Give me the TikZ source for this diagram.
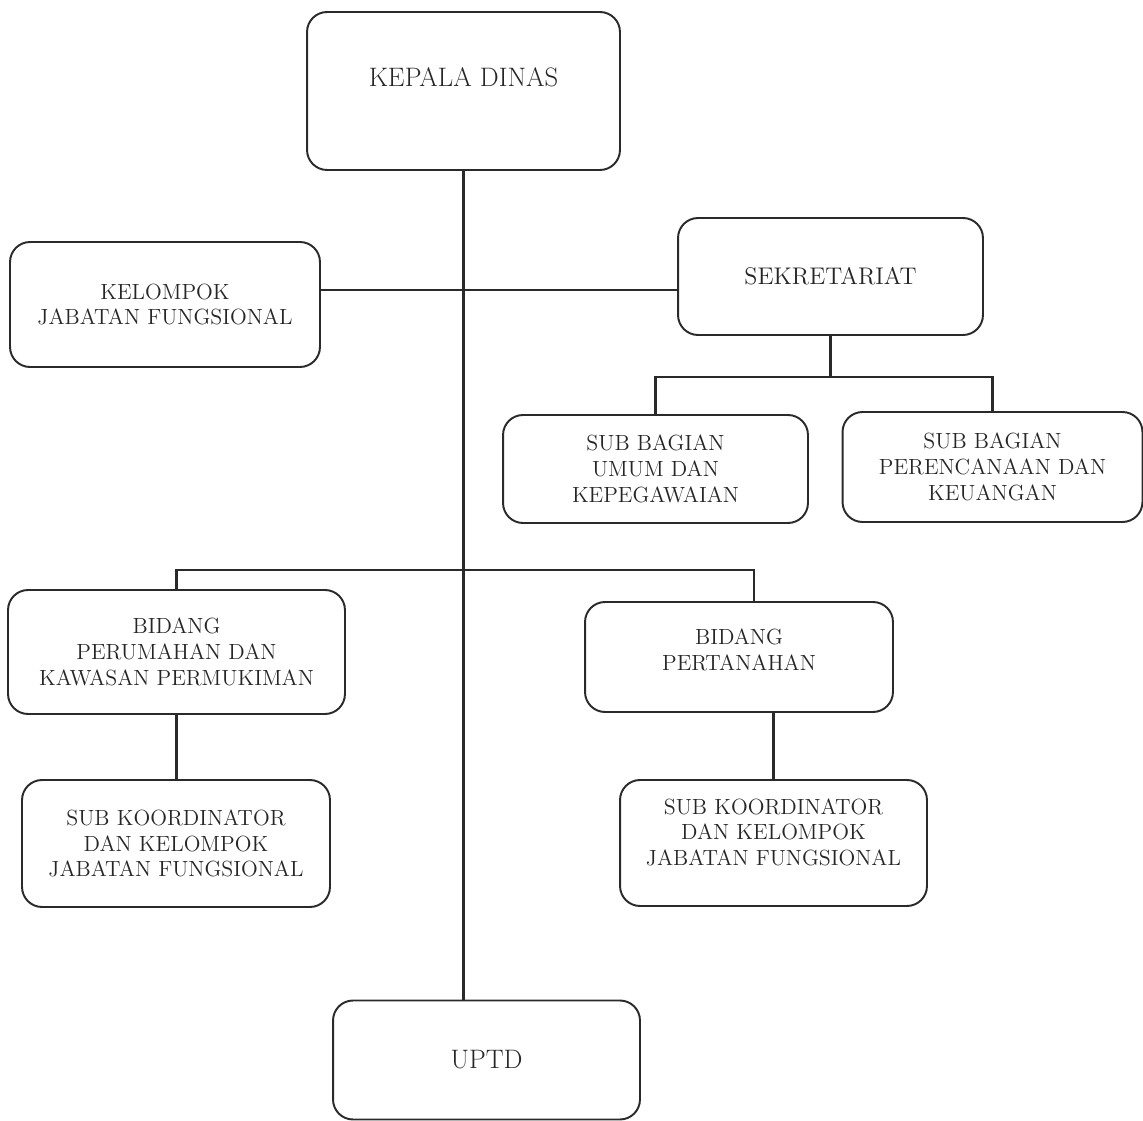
\documentclass[tikz,border=0pt]{standalone}
\usepackage{tikz}
\usetikzlibrary{calc}
\definecolor{garis}{HTML}{2A2A2A}
\definecolor{teks}{HTML}{262626}
\tikzset{
  kotak/.style={draw=garis, line width=1.1pt, rounded corners=0.4cm, align=center,
    text=teks, inner sep=0pt, font=\fontsize{12.5}{14.7}\selectfont},
  judul/.style={font=\fontsize{15.2}{17}\selectfont},
  hubung/.style={draw=garis, line width=1.3pt},
}

\begin{document}
\begin{tikzpicture}[x=0.02cm, y=-0.02cm]
\useasboundingbox (0,0) rectangle (1143,1121);
% Kepala Dinas
\node[kotak, judul, minimum width=6.26cm, minimum height=3.16cm, text depth=0.56cm] (kadis) at (463.5,91) {KEPALA DINAS};
% Kelompok Jabatan Fungsional
\node[kotak, minimum width=6.2cm, minimum height=2.5cm] (kjf) at (165,304.5) {KELOMPOK\\JABATAN FUNGSIONAL};
% Sekretariat
\node[kotak, font=\fontsize{13.7}{16}\selectfont, minimum width=6.1cm, minimum height=2.34cm] (sekre) at (830.5,276.5) {SEKRETARIAT};
% Sub Bagian
\node[kotak, minimum width=6.1cm, minimum height=2.16cm] (subum) at (655.5,469) {SUB BAGIAN\\UMUM DAN\\KEPEGAWAIAN};
\node[kotak, minimum width=6.0cm, minimum height=2.2cm] (subrk) at (992.5,467) {SUB BAGIAN\\PERENCANAAN DAN\\KEUANGAN};
% Bidang
\node[kotak, minimum width=6.74cm, minimum height=2.48cm] (bpkp) at (176.5,652) {BIDANG\\PERUMAHAN DAN\\KAWASAN PERMUKIMAN};
\node[kotak, minimum width=6.16cm, minimum height=2.2cm, text depth=0.28cm] (bpt) at (739,657) {BIDANG\\PERTANAHAN};
% Sub Koordinator
\node[kotak, minimum width=6.16cm, minimum height=2.54cm] (skl) at (176,843.5) {SUB KOORDINATOR\\DAN KELOMPOK\\JABATAN FUNGSIONAL};
\node[kotak, minimum width=6.14cm, minimum height=2.52cm, text depth=0.44cm] (skr) at (773.5,843) {SUB KOORDINATOR\\DAN KELOMPOK\\JABATAN FUNGSIONAL};
% UPTD
\node[kotak, judul, minimum width=6.14cm, minimum height=2.38cm] (uptd) at (486.5,1060) {UPTD};

% garis komando
\draw[hubung] (kadis.south) -- (kadis.south |- uptd.north);
\coordinate (simpul1) at (kadis.south |- 0,290);
\draw[hubung] (kjf.east |- simpul1) -- (sekre.west |- simpul1);
% ke sub bagian
\coordinate (simpul2) at (sekre.south |- 0,377);
\draw[hubung] (sekre.south) -- (simpul2);
\draw[hubung] (subum.north) |- (simpul2) -| (subrk.north);
% ke bidang
\coordinate (simpul3) at (kadis.south |- 0,570);
\draw[hubung] (bpkp.north) |- (simpul3) -| ([xshift=0.3cm]bpt.north);
% ke sub koordinator
\draw[hubung] (bpkp.south) -- (bpkp.south |- skl.north);
\draw[hubung] (skr.north) -- (skr.north |- bpt.south);
\end{tikzpicture}
\end{document}
